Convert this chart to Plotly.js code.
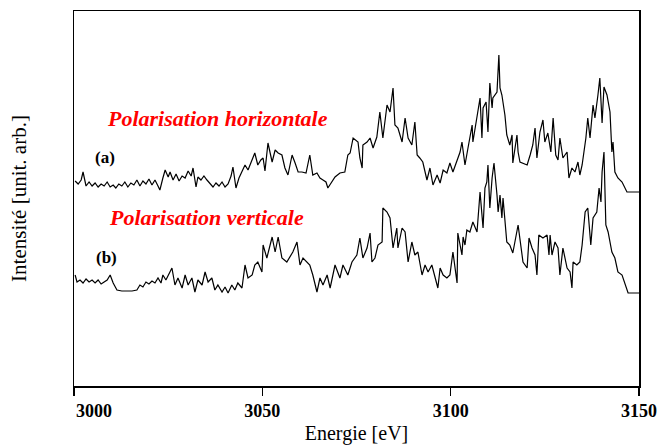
<!DOCTYPE html>
<html>
<head>
<meta charset="utf-8">
<script src="https://cdn.plot.ly/plotly-3.0.1.min.js"></script>
<style>html,body{margin:0;padding:0;background:#fff;}#chart{width:662px;height:446px;}</style>
</head>
<body>
<div id="chart"></div>
<script>
// Curve (a): Polarisation horizontale  (energy in eV, intensity in arbitrary units)
const energyA = [3000.3,3001.1,3001.9,3002.4,3003.2,3004.0,3004.8,3005.6,3006.4,3007.2,3008.0,3008.8,3009.6,3010.4,3011.1,3011.9,3012.7,3013.5,3014.3,3015.1,3015.9,3016.7,3017.5,3018.3,3019.1,3019.9,3020.7,3021.5,3022.3,3022.8,3023.6,3024.2,3025.0,3025.5,3026.3,3027.1,3027.9,3028.7,3029.5,3030.3,3031.1,3031.6,3032.4,3032.9,3033.7,3034.5,3035.3,3036.1,3036.9,3037.7,3038.5,3039.3,3040.1,3040.9,3041.7,3042.2,3043.0,3043.8,3044.6,3045.4,3046.2,3047.0,3048.0,3048.8,3049.6,3050.2,3050.7,3051.5,3052.6,3053.4,3054.2,3055.2,3056.0,3056.8,3057.9,3058.7,3059.5,3060.5,3061.6,3062.6,3063.4,3064.5,3065.3,3066.1,3066.9,3067.4,3068.5,3069.3,3070.6,3071.9,3072.7,3073.3,3074.1,3075.4,3075.9,3076.5,3076.7,3077.8,3078.6,3079.4,3080.4,3081.2,3082.0,3083.1,3083.9,3084.7,3085.2,3086.0,3087.1,3087.9,3088.7,3089.7,3090.5,3091.1,3091.8,3092.6,3093.7,3094.5,3095.3,3096.4,3097.2,3098.0,3099.0,3099.8,3100.6,3101.7,3102.5,3103.0,3103.8,3104.6,3105.7,3105.9,3107.0,3107.8,3108.3,3108.6,3109.4,3109.9,3110.4,3111.0,3111.2,3112.3,3112.8,3113.1,3113.6,3114.4,3114.9,3115.7,3116.3,3116.5,3117.6,3117.9,3118.4,3119.2,3120.3,3121.1,3121.8,3122.4,3122.9,3123.7,3124.5,3125.0,3125.8,3126.6,3127.2,3127.9,3128.5,3129.0,3129.8,3130.9,3131.4,3132.2,3133.0,3133.8,3134.3,3134.9,3135.4,3135.9,3136.4,3137.0,3137.8,3138.3,3139.1,3139.6,3140.2,3140.7,3141.5,3142.3,3142.8,3143.1,3143.6,3144.4,3145.5,3146.3,3146.8,3150.0];
const intensityA = [205,202,206,214,200,204,200,203,199,202,200,204,199,201,198,202,200,204,199,203,201,206,200,205,202,207,201,206,200,196,208,216,209,214,206,212,205,210,208,215,210,218,199,209,206,210,206,202,199,203,200,204,199,202,210,219,198,208,214,221,216,224,233,221,226,228,215,243,224,236,233,231,218,211,231,223,214,214,213,231,211,213,208,206,204,198,204,209,213,214,231,233,248,244,228,218,241,244,248,238,249,274,248,281,274,298,261,258,244,268,248,241,264,231,228,224,206,218,201,211,203,216,213,223,214,226,234,244,221,238,261,244,271,288,248,278,284,254,303,278,288,294,331,298,291,271,251,241,251,223,251,234,224,223,221,231,241,258,228,254,266,244,253,234,268,231,226,248,228,234,208,218,214,224,211,221,234,248,268,248,281,268,291,308,263,299,291,274,234,244,214,208,204,198,194,194];

// Curve (b): Polarisation verticale
const energyB = [3000.3,3000.8,3001.6,3002.4,3003.2,3004.0,3004.8,3005.6,3006.4,3007.2,3008.0,3008.8,3009.6,3010.4,3011.4,3012.7,3014.1,3015.4,3016.7,3017.5,3018.3,3019.1,3019.9,3020.7,3021.5,3022.3,3023.1,3023.6,3024.4,3025.0,3026.0,3026.8,3027.6,3028.7,3029.5,3030.3,3031.3,3032.1,3032.9,3034.0,3034.8,3035.6,3036.6,3037.4,3038.2,3039.3,3040.1,3040.9,3041.9,3042.7,3043.5,3044.6,3045.4,3046.2,3047.3,3048.0,3048.8,3049.9,3050.2,3051.2,3052.6,3053.4,3054.2,3055.2,3056.5,3058.1,3059.2,3060.0,3060.8,3062.6,3063.4,3064.5,3065.3,3066.1,3067.2,3068.0,3069.3,3070.6,3071.4,3072.7,3073.8,3075.1,3075.9,3076.7,3077.8,3078.6,3079.1,3079.9,3080.7,3081.8,3082.0,3083.1,3083.9,3084.7,3085.7,3086.0,3087.1,3087.9,3088.7,3089.7,3090.5,3091.3,3092.4,3093.2,3094.0,3095.0,3095.8,3096.6,3097.2,3098.0,3099.0,3099.8,3100.6,3101.1,3101.7,3101.9,3103.0,3103.3,3103.8,3104.3,3105.1,3105.9,3107.0,3107.8,3108.6,3109.1,3109.6,3109.9,3110.4,3111.0,3111.5,3112.3,3112.6,3113.1,3113.6,3113.9,3114.4,3114.9,3115.7,3116.5,3117.9,3118.4,3119.2,3120.3,3120.8,3121.6,3122.4,3122.9,3123.4,3124.5,3125.6,3126.1,3126.4,3126.9,3127.7,3128.5,3129.0,3129.8,3130.9,3131.7,3132.2,3132.5,3133.5,3134.3,3134.9,3135.7,3136.4,3137.2,3137.8,3138.8,3139.4,3139.9,3140.2,3140.7,3141.2,3141.8,3142.8,3143.6,3144.4,3145.5,3146.3,3147.1,3150.0];
const intensityB = [111,104,106,103,107,104,106,103,106,102,104,106,111,103,96,95,95,95,96,101,99,104,102,105,103,108,103,111,106,110,118,101,108,98,111,101,108,94,106,101,114,104,108,96,101,94,99,93,101,96,103,98,121,108,111,121,124,114,141,128,149,134,149,128,124,134,144,121,128,121,111,94,108,101,111,98,121,108,121,111,124,131,148,128,138,153,124,128,141,144,178,174,168,138,158,138,158,154,124,144,131,134,111,121,114,121,108,98,118,111,108,111,134,118,103,153,131,149,141,156,154,164,154,194,158,198,204,221,178,208,223,191,174,191,168,188,161,144,141,133,161,148,124,118,148,138,131,111,151,148,151,131,151,131,144,138,111,138,118,114,98,124,121,124,141,174,178,141,168,174,198,184,214,234,161,154,134,128,114,111,101,93,93];

// Axis ticks and labels
const tickValues = [3000, 3050, 3100, 3150];
const tickLabels = ['', '3050', '3100', '3150'];
const firstTickLabel = '3000';
const seriesLabels = ['(a)', '(b)'];
const seriesTitles = ['Polarisation horizontale', 'Polarisation verticale'];

const serif = 'Liberation Serif, Times New Roman, serif';
const lineStyle = {color: '#000', width: 1.2};

const traces = [
  {x: energyA, y: intensityA, mode: 'lines', line: lineStyle, name: seriesTitles[0], hoverinfo: 'skip'},
  {x: energyB, y: intensityB, mode: 'lines', line: lineStyle, name: seriesTitles[1], hoverinfo: 'skip'}
];

const layout = {
  width: 662, height: 446,
  margin: {l: 74, r: 23, t: 11, b: 60},
  paper_bgcolor: '#fff', plot_bgcolor: '#fff',
  showlegend: false,
  font: {family: serif, color: '#000'},
  xaxis: {
    range: [3000, 3150], showgrid: false, zeroline: false,
    showline: true, mirror: true, linecolor: '#000', linewidth: 1.5,
    ticks: 'outside', ticklen: 8, tickwidth: 1.2, tickcolor: '#000',
    tickvals: tickValues, ticktext: tickLabels,
    tickfont: {family: serif, size: 18, weight: 'bold'},
    title: {text: 'Energie [eV]', font: {family: serif, size: 20}, standoff: 6}
  },
  yaxis: {
    range: [0, 375], showgrid: false, zeroline: false,
    showline: true, mirror: true, linecolor: '#000', linewidth: 1.5,
    ticks: '', showticklabels: false,
    title: {text: 'Intensité [unit. arb.]', font: {family: serif, size: 21}, standoff: 40}
  },
  annotations: [
    {xref: 'x', yref: 'paper', x: tickValues[0], y: 0, yshift: -13, xanchor: 'left', yanchor: 'top',
     text: '<b>' + firstTickLabel + '</b>', showarrow: false, font: {family: serif, size: 18, color: '#000'}},
    {xref: 'x', yref: 'y', x: 3038.2, y: 268, text: '<b><i>' + seriesTitles[0] + '</i></b>', showarrow: false,
     font: {family: serif, size: 22, color: '#ff0000'}},
    {xref: 'x', yref: 'y', x: 3008.2, y: 229, text: '<b>' + seriesLabels[0] + '</b>', showarrow: false,
     font: {family: serif, size: 17, color: '#000'}},
    {xref: 'x', yref: 'y', x: 3035.3, y: 169, text: '<b><i>' + seriesTitles[1] + '</i></b>', showarrow: false,
     font: {family: serif, size: 22, color: '#ff0000'}},
    {xref: 'x', yref: 'y', x: 3008.5, y: 129, text: '<b>' + seriesLabels[1] + '</b>', showarrow: false,
     font: {family: serif, size: 17, color: '#000'}}
  ]
};

Plotly.newPlot('chart', traces, layout, {displayModeBar: false, staticPlot: true});
</script>
</body>
</html>
